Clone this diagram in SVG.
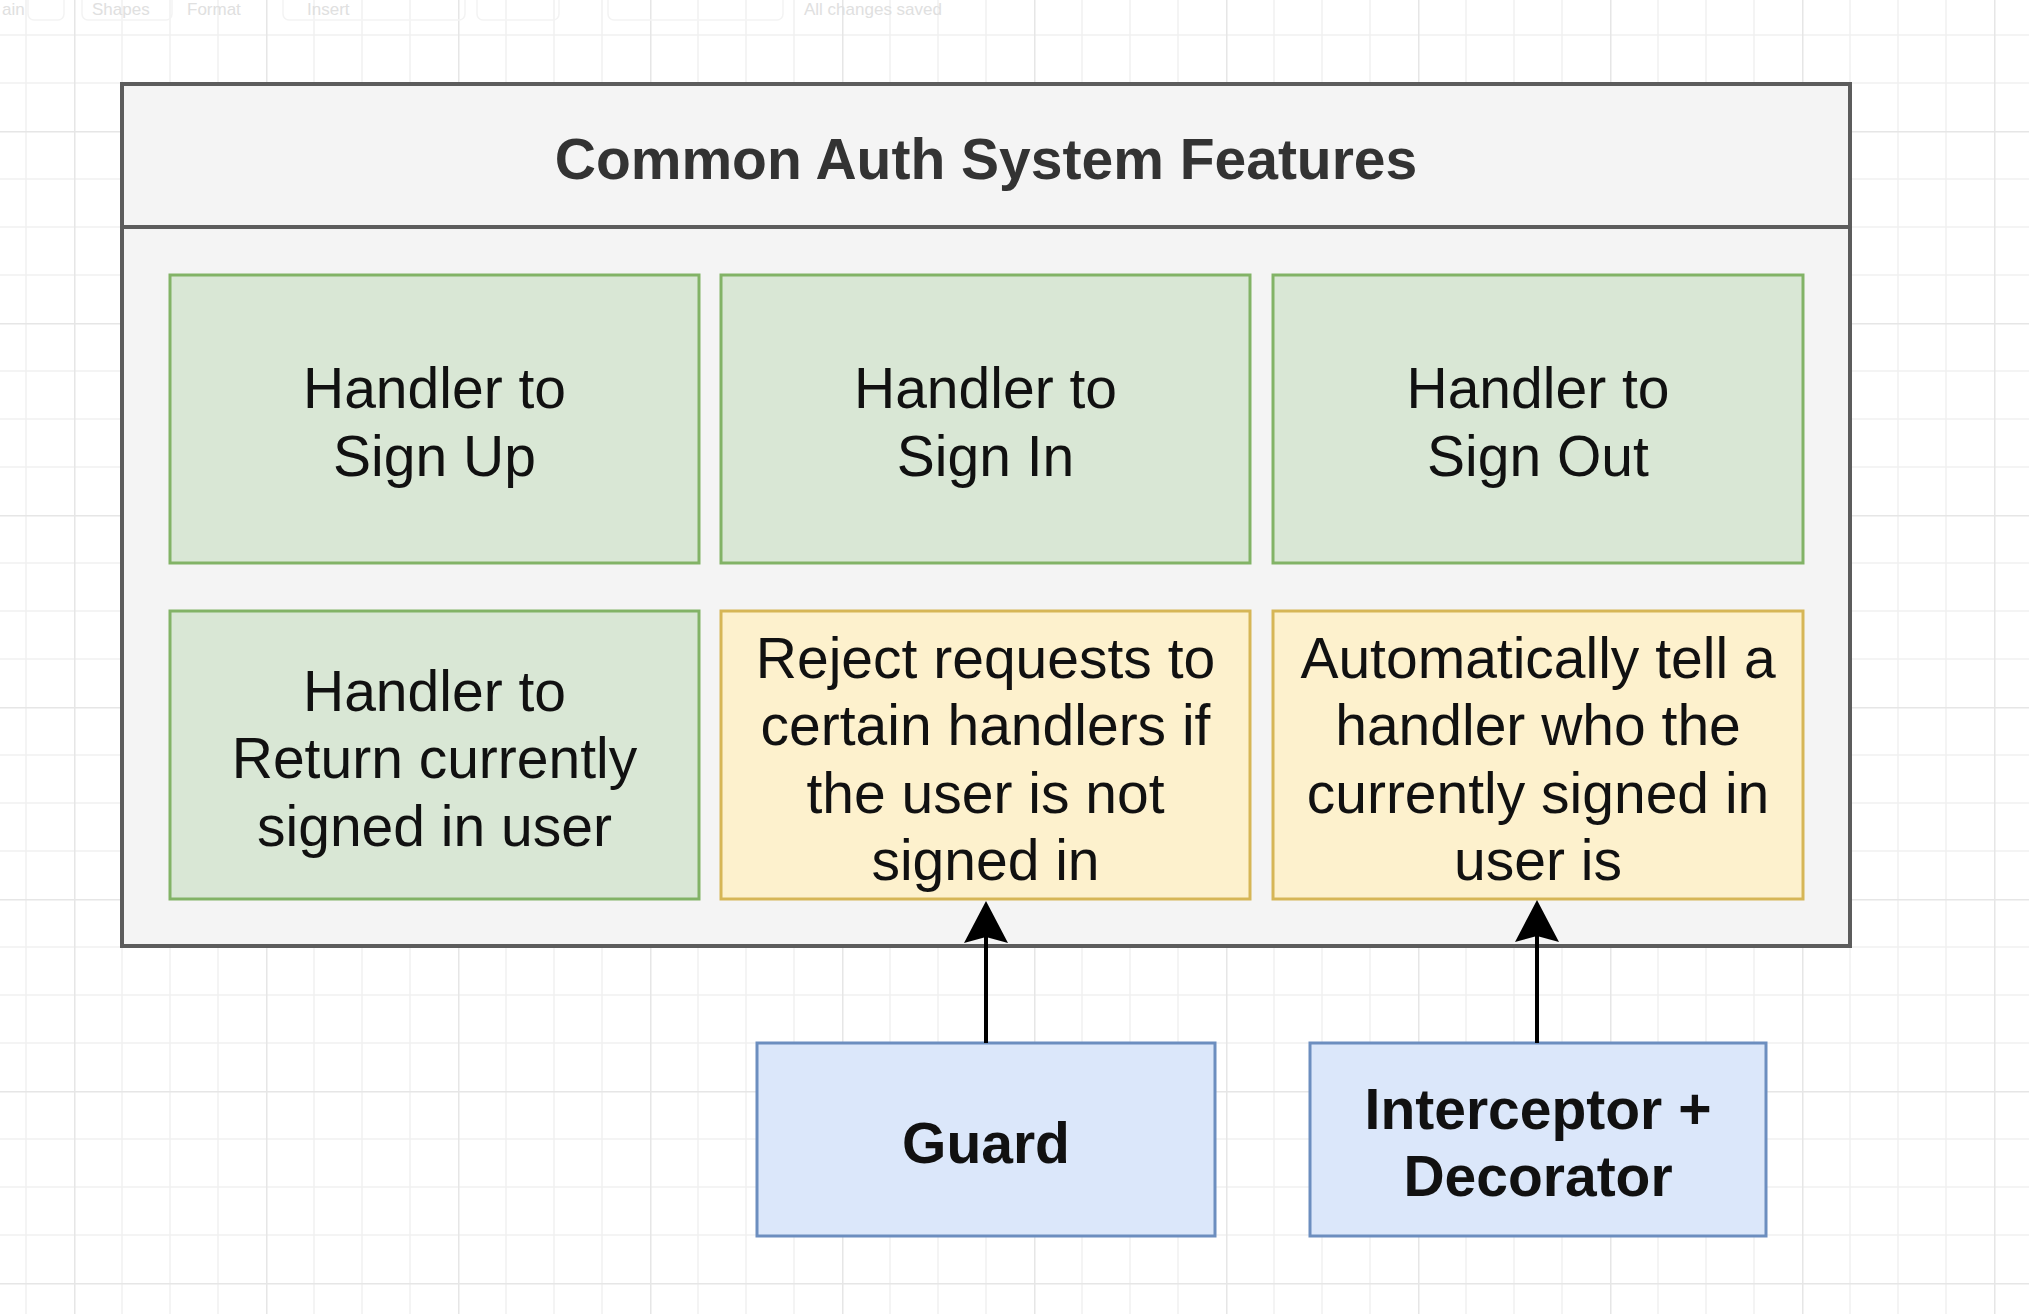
<svg xmlns="http://www.w3.org/2000/svg" width="2029" height="1314" viewBox="0 0 2029 1314">
  <style>
    .lbl { font-family: "Liberation Sans", Arial, Helvetica, sans-serif; font-size: 57px; fill: #111; text-anchor: middle; }
    .bold { font-weight: bold; }
    .title { fill: #333; }
    .green { fill: #d9e7d5; stroke: #82b366; stroke-width: 3; }
    .yellow { fill: #fdf1cd; stroke: #d6b656; stroke-width: 3; }
    .blue { fill: #dbe7fa; stroke: #6c8ebf; stroke-width: 3; }
    .container { fill: #f4f4f4; stroke: #5c5c5c; stroke-width: 4; }
    .edge { stroke: #000; stroke-width: 4; fill: none; }
    .tb { font-family: "Liberation Sans", Arial, Helvetica, sans-serif; font-size: 17px; fill: #e0e0e0; }
    .tbbtn { fill: none; stroke: #f3f3f3; stroke-width: 1.5; }
  </style>
  <defs>
    <pattern id="grid" patternUnits="userSpaceOnUse" x="74" y="131" width="192" height="192">
      <path d="M48 0V192M96 0V192M144 0V192M0 48H192M0 96H192M0 144H192" stroke="#f1f1f1" stroke-width="1.5" fill="none"/>
      <path d="M0.75 0V192M0 0.75H192" stroke="#e6e6e6" stroke-width="1.5" fill="none"/>
    </pattern>
  </defs>

  <!-- canvas -->
  <rect width="2029" height="1314" fill="#ffffff"/>
  <rect width="2029" height="1314" fill="url(#grid)"/>

  <!-- faded editor toolbar along the top edge -->
  <g id="toolbar">
    <rect class="tbbtn" x="28" y="-12" width="36" height="32" rx="6"/>
    <rect class="tbbtn" x="82" y="-12" width="90" height="32" rx="6"/>
    <rect class="tbbtn" x="283" y="-12" width="182" height="32" rx="6"/>
    <rect class="tbbtn" x="477" y="-12" width="82" height="32" rx="6"/>
    <rect class="tbbtn" x="608" y="-12" width="175" height="32" rx="6"/>
    <text class="tb" x="2" y="15">ain</text>
    <text class="tb" x="92" y="15">Shapes</text>
    <text class="tb" x="187" y="15">Format</text>
    <text class="tb" x="307" y="15">Insert</text>
    <text class="tb" x="804" y="15">All changes saved</text>
  </g>

  <!-- outer container with title band -->
  <g id="container">
    <rect class="container" x="122" y="84" width="1728" height="862"/>
    <line x1="122" y1="227" x2="1850" y2="227" stroke="#5c5c5c" stroke-width="4"/>
    <text class="lbl bold title" x="986" y="179">Common Auth System Features</text>
  </g>

  <g id="sign-up">
    <rect class="green" x="170" y="275" width="529" height="288"/>
    <text class="lbl" x="434.5" y="408">Handler to</text>
    <text class="lbl" x="434.5" y="476">Sign Up</text>
  </g>

  <g id="sign-in">
    <rect class="green" x="721" y="275" width="529" height="288"/>
    <text class="lbl" x="985.5" y="408">Handler to</text>
    <text class="lbl" x="985.5" y="476">Sign In</text>
  </g>

  <g id="sign-out">
    <rect class="green" x="1273" y="275" width="530" height="288"/>
    <text class="lbl" x="1538" y="408">Handler to</text>
    <text class="lbl" x="1538" y="476">Sign Out</text>
  </g>

  <g id="current-user">
    <rect class="green" x="170" y="611" width="529" height="288"/>
    <text class="lbl" x="434.5" y="711">Handler to</text>
    <text class="lbl" x="434.5" y="778">Return currently</text>
    <text class="lbl" x="434.5" y="846">signed in user</text>
  </g>

  <g id="reject-requests">
    <rect class="yellow" x="721" y="611" width="529" height="288"/>
    <text class="lbl" x="985.5" y="678">Reject requests to</text>
    <text class="lbl" x="985.5" y="745">certain handlers if</text>
    <text class="lbl" x="985.5" y="813">the user is not</text>
    <text class="lbl" x="985.5" y="880">signed in</text>
  </g>

  <g id="tell-handler">
    <rect class="yellow" x="1273" y="611" width="530" height="288"/>
    <text class="lbl" x="1538" y="678">Automatically tell a</text>
    <text class="lbl" x="1538" y="745">handler who the</text>
    <text class="lbl" x="1538" y="813">currently signed in</text>
    <text class="lbl" x="1538" y="880">user is</text>
  </g>

  <g id="guard">
    <rect class="blue" x="757" y="1043" width="458" height="193"/>
    <text class="lbl bold" x="986" y="1163">Guard</text>
  </g>

  <g id="interceptor-decorator">
    <rect class="blue" x="1310" y="1043" width="456" height="193"/>
    <text class="lbl bold" x="1538" y="1129">Interceptor +</text>
    <text class="lbl bold" x="1538" y="1196">Decorator</text>
  </g>

  <!-- connectors -->
  <g id="connectors">
    <line class="edge" x1="986" y1="1043" x2="986" y2="936"/>
    <path d="M986 901 L1008 943 L986 937 L964 943 Z" fill="#000"/>
    <line class="edge" x1="1537" y1="1043" x2="1537" y2="936"/>
    <path d="M1537 900 L1559 942 L1537 936 L1515 942 Z" fill="#000"/>
  </g>
</svg>
